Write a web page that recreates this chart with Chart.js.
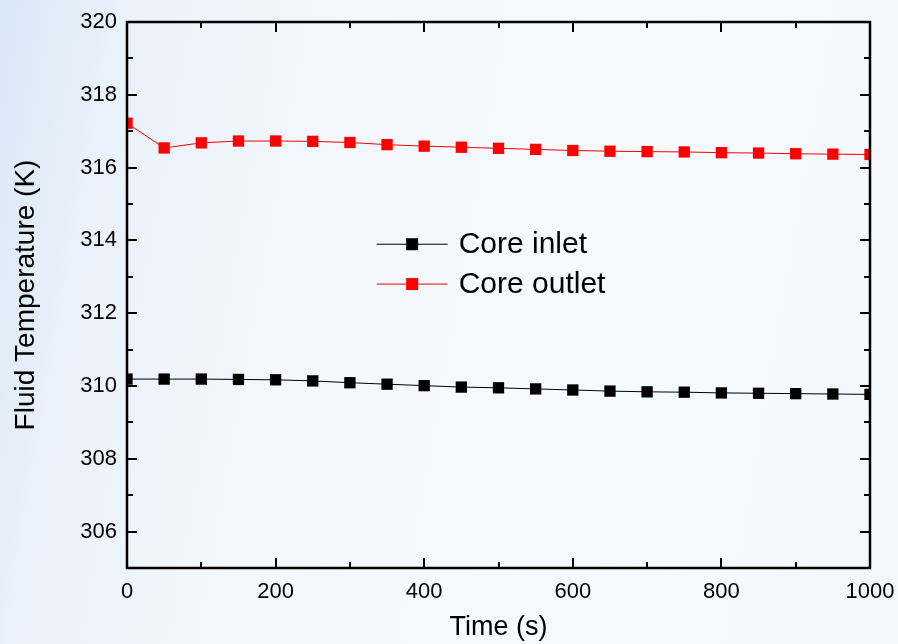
<!DOCTYPE html>
<html>
<head>
<meta charset="utf-8">
<script src="https://cdn.jsdelivr.net/npm/chart.js@4.4.1/dist/chart.umd.min.js"></script>
<style>
  html, body { margin: 0; padding: 0; }
  body {
    width: 898px; height: 644px; overflow: hidden;
    background: linear-gradient(100deg, #dae7f5 0%, #e9f1fa 12%, #f4f8fd 35%, #f7fafd 70%, #f3f7fc 100%);
  }
  #wrap { position: relative; width: 898px; height: 644px; }
</style>
</head>
<body>
<div id="wrap"><canvas id="chart" width="898" height="644"></canvas></div>
<script>
// data
const times = [0, 50, 100, 150, 200, 250, 300, 350, 400, 450, 500, 550, 600, 650, 700, 750, 800, 850, 900, 950, 1000];
const coreInlet = [310.19, 310.19, 310.19, 310.18, 310.17, 310.14, 310.09, 310.05, 310.01, 309.97, 309.95, 309.92, 309.89, 309.86, 309.84, 309.83, 309.81, 309.80, 309.79, 309.78, 309.77];
const coreOutlet = [317.22, 316.54, 316.68, 316.73, 316.73, 316.72, 316.69, 316.63, 316.59, 316.56, 316.53, 316.50, 316.47, 316.45, 316.44, 316.43, 316.41, 316.40, 316.38, 316.37, 316.36];
const yTicks = [306, 308, 310, 312, 314, 316, 318, 320];
const xTicks = [0, 200, 400, 600, 800, 1000];
const seriesNames = ["Core inlet", "Core outlet"];

const FONT = "'Liberation Sans', Arial, sans-serif";

// frame + inward ticks on all four sides
const frameTicks = {
    id: "frameTicks",
    afterDatasetsDraw(chart) {
        const { ctx, chartArea: a, scales } = chart;
        const x = scales.x, y = scales.y;
        ctx.save();
        ctx.strokeStyle = "#000";
        ctx.lineWidth = 2;
        ctx.beginPath();
        for (let v = 0; v <= 1000; v += 100) {
            const px = Math.round(x.getPixelForValue(v));
            const len = v % 200 === 0 ? 10 : 6;
            ctx.moveTo(px, a.bottom); ctx.lineTo(px, a.bottom - len);
            ctx.moveTo(px, a.top); ctx.lineTo(px, a.top + len);
        }
        for (let v = 305; v <= 320; v += 1) {
            const py = Math.round(y.getPixelForValue(v));
            const len = v % 2 === 0 ? 10 : 6;
            ctx.moveTo(a.left, py); ctx.lineTo(a.left + len, py);
            ctx.moveTo(a.right, py); ctx.lineTo(a.right - len, py);
        }
        ctx.stroke();
        ctx.lineWidth = 2.5;
        ctx.strokeRect(a.left, a.top, a.right - a.left, a.bottom - a.top);
        ctx.restore();
    }
};

// legend inside the plot
const innerLegend = {
    id: "innerLegend",
    afterDraw(chart) {
        const { ctx, chartArea: a } = chart;
        const x0 = a.left + (a.right - a.left) * 0.336;
        const rows = [a.top + (a.bottom - a.top) * 0.407, a.top + (a.bottom - a.top) * 0.480];
        ctx.save();
        chart.data.datasets.forEach((ds, i) => {
            const yy = rows[i];
            ctx.strokeStyle = ds.borderColor;
            ctx.lineWidth = 1;
            ctx.beginPath();
            ctx.moveTo(x0, yy); ctx.lineTo(x0 + 71, yy);
            ctx.stroke();
            ctx.fillStyle = ds.pointBackgroundColor;
            ctx.fillRect(x0 + 35.5 - 6, yy - 6, 12, 12);
            ctx.fillStyle = "#000";
            ctx.font = "30px " + FONT;
            ctx.textBaseline = "middle";
            ctx.textAlign = "left";
            ctx.fillText(ds.label, x0 + 82, yy + 1);
        });
        ctx.restore();
    }
};

new Chart(document.getElementById("chart"), {
    type: "line",
    data: {
        datasets: [
            {
                label: seriesNames[0],
                data: times.map((t, i) => ({ x: t, y: coreInlet[i] })),
                borderColor: "#000000",
                backgroundColor: "#000000",
                pointBackgroundColor: "#000000",
                pointBorderColor: "#000000",
                borderWidth: 1,
                pointStyle: "rect",
                pointRadius: 8,
                pointBorderWidth: 0,
                tension: 0
            },
            {
                label: seriesNames[1],
                data: times.map((t, i) => ({ x: t, y: coreOutlet[i] })),
                borderColor: "#ff0000",
                backgroundColor: "#ff0000",
                pointBackgroundColor: "#ff0000",
                pointBorderColor: "#ff0000",
                borderWidth: 1,
                pointStyle: "rect",
                pointRadius: 8,
                pointBorderWidth: 0,
                tension: 0
            }
        ]
    },
    options: {
        responsive: false,
        animation: false,
        layout: { padding: { top: 22, right: 28, left: 0, bottom: 0 } },
        plugins: {
            legend: { display: false },
            tooltip: { enabled: false }
        },
        scales: {
            x: {
                type: "linear",
                min: 0,
                max: 1000,
                afterBuildTicks: (s) => { s.ticks = xTicks.map(v => ({ value: v })); },
                afterFit: (s) => { s.height = 76; s.paddingRight = 0; s.paddingLeft = 0; },
                grid: { display: false, drawTicks: false },
                border: { display: false },
                ticks: { color: "#000", padding: 11, maxRotation: 0, callback: (v) => String(v), font: { family: FONT, size: 22 } },
                title: { display: true, text: "Time (s)", color: "#000", padding: { top: 0, bottom: 0 }, font: { family: FONT, size: 27 } }
            },
            y: {
                type: "linear",
                min: 305,
                max: 320,
                afterBuildTicks: (s) => { s.ticks = yTicks.map(v => ({ value: v })); },
                afterFit: (s) => { s.width = 127; s.paddingTop = 0; s.paddingBottom = 0; },
                grid: { display: false, drawTicks: false },
                border: { display: false },
                ticks: { color: "#000", padding: 10, font: { family: FONT, size: 22 } },
                title: { display: true, text: "Fluid Temperature (K)", color: "#000", padding: { top: 9, bottom: 0 }, font: { family: FONT, size: 28 } }
            }
        }
    },
    plugins: [frameTicks, innerLegend]
});
</script>
</body>
</html>
